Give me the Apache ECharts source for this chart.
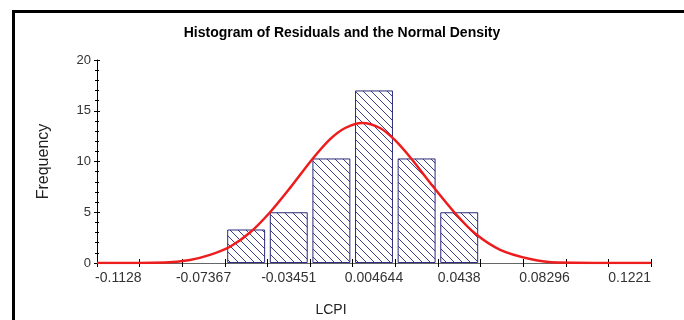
<!DOCTYPE html>
<html>
<head>
<meta charset="utf-8">
<script src="https://cdn.jsdelivr.net/npm/echarts@6/dist/echarts.min.js"></script>
<style>
  html, body { margin: 0; padding: 0; background: #fff; }
  #frame {
    position: absolute; left: 12px; top: 10px; width: 720px; height: 360px;
    border-left: 3px solid #000; border-top: 3px solid #000;
  }
  #chart { position: absolute; left: 0; top: 0; width: 684px; height: 320px; }
</style>
</head>
<body>
<div id="frame"></div>
<div id="chart"></div>
<script>
// Histogram bins (bin centres), labels shown on every other bin
const binLabels = ['-0.1128', '-0.09324', '-0.07367', '-0.05409', '-0.03451', '-0.01494',
  '0.004644', '0.02422', '0.0438', '0.06338', '0.08296', '0.1025', '0.1221']
const frequency = [null, null, null, 3.3, 5, 10.3, 17, 10.3, 5, null, null, null, null]

// Normal density curve (x in LCPI units)
const curveX = [-0.1226, -0.0913, -0.0799, -0.0707, -0.0615, -0.0523, -0.0431, -0.0339, -0.0238,
  -0.0155, -0.0086, -0.0008, 0.0074, 0.0143, 0.0221, 0.0304, 0.0419, 0.0511, 0.0626, 0.0764,
  0.0888, 0.1319]
const curveY = [0, 0.05, 0.3, 0.8, 1.6, 3.0, 5.0, 7.4, 10.2, 12.2, 13.3, 13.8, 13.3, 12.1, 10.2,
  7.9, 4.9, 2.9, 1.3, 0.4, 0.05, 0]

// x range of the plot = outer edges of first and last bin
const X_MIN = -0.12259
const X_MAX = 0.13189

const COLOR_BAR = '#2b2b7c'
const COLOR_HATCH = '#3d3d8e'
const COLOR_CURVE = '#ee1d1d'
const FONT = 'Liberation Sans, Arial, sans-serif'

// diagonal hatch pattern for the bars
const hatch = document.createElement('canvas')
hatch.width = 8
hatch.height = 8
const ctx = hatch.getContext('2d')
ctx.fillStyle = '#fff'
ctx.fillRect(0, 0, 8, 8)
ctx.strokeStyle = COLOR_HATCH
ctx.lineWidth = 1
ctx.beginPath()
ctx.moveTo(-1, -1); ctx.lineTo(9, 9)
ctx.moveTo(-9, -1); ctx.lineTo(1, 9)
ctx.moveTo(7, -1); ctx.lineTo(17, 9)
ctx.stroke()

const chart = echarts.init(document.getElementById('chart'), null, { renderer: 'canvas' })

chart.setOption({
  animation: false,
  backgroundColor: 'transparent',
  title: [
    {
      text: 'Histogram of Residuals and the Normal Density',
      left: 'center',
      top: 21,
      textStyle: { fontFamily: FONT, fontSize: 14, fontWeight: 'bold', color: '#000' },
    },
    {
      text: 'LCPI',
      left: 326,
      textAlign: 'center',
      top: 298,
      textStyle: { fontFamily: FONT, fontSize: 14, fontWeight: 'normal', color: '#222' },
    },
  ],
  grid: { left: 97, right: 33, top: 60, bottom: 57, containLabel: false, outerBoundsMode: 'none' },
  xAxis: [
    {
      type: 'category',
      position: 'bottom',
      data: binLabels,
      boundaryGap: true,
      axisLine: { onZero: false, lineStyle: { color: '#666', width: 1 } },
      axisTick: { show: true, interval: 0, length: 4, lineStyle: { color: '#000' } },
      axisLabel: { interval: 1, fontFamily: FONT, fontSize: 14, color: '#333', margin: 8 },
      splitLine: { show: false },
    },
    {
      type: 'value',
      position: 'bottom',
      min: X_MIN,
      max: X_MAX,
      show: false,
    },
    {
      // inner half of the crossing ticks
      type: 'category',
      position: 'bottom',
      data: binLabels,
      boundaryGap: true,
      axisLine: { show: false, onZero: false },
      axisTick: { show: true, inside: true, interval: 0, length: 4, lineStyle: { color: '#000' } },
      axisLabel: { show: false },
      splitLine: { show: false },
    },
  ],
  yAxis: [
    {
      type: 'value',
      position: 'left',
      min: 0,
      max: 20,
      interval: 5,
      name: 'Frequency',
      nameLocation: 'middle',
      nameRotate: 90,
      nameGap: 45,
      nameTextStyle: { fontFamily: FONT, fontSize: 16, color: '#222' },
      axisLine: { show: true, onZero: false, lineStyle: { color: '#000', width: 1 } },
      axisTick: { show: true, length: 3, lineStyle: { color: '#000' } },
      minorTick: { show: true, splitNumber: 5, length: 2, lineStyle: { color: '#000' } },
      axisLabel: { fontFamily: FONT, fontSize: 13, color: '#333', margin: 6 },
      splitLine: { show: false },
    },
    {
      type: 'value',
      position: 'left',
      min: 0,
      max: 20,
      interval: 5,
      axisLine: { show: false, onZero: false },
      axisTick: { show: true, inside: true, length: 3, lineStyle: { color: '#000' } },
      minorTick: { show: true, splitNumber: 5, length: 2, lineStyle: { color: '#000' } },
      axisLabel: { show: false },
      splitLine: { show: false },
    },
  ],
  series: [
    {
      name: 'Residuals',
      type: 'bar',
      xAxisIndex: 0,
      yAxisIndex: 0,
      barCategoryGap: '11%',
      data: frequency,
      itemStyle: {
        color: { image: hatch, repeat: 'repeat' },
        borderColor: COLOR_BAR,
        borderWidth: 1,
      },
      z: 2,
    },
    {
      name: 'Normal density',
      type: 'line',
      xAxisIndex: 1,
      yAxisIndex: 0,
      smooth: 0.3,
      showSymbol: false,
      lineStyle: { color: COLOR_CURVE, width: 2.5 },
      data: curveX.map((x, i) => [x, curveY[i]]),
      z: 3,
    },
  ],
})
</script>
</body>
</html>
